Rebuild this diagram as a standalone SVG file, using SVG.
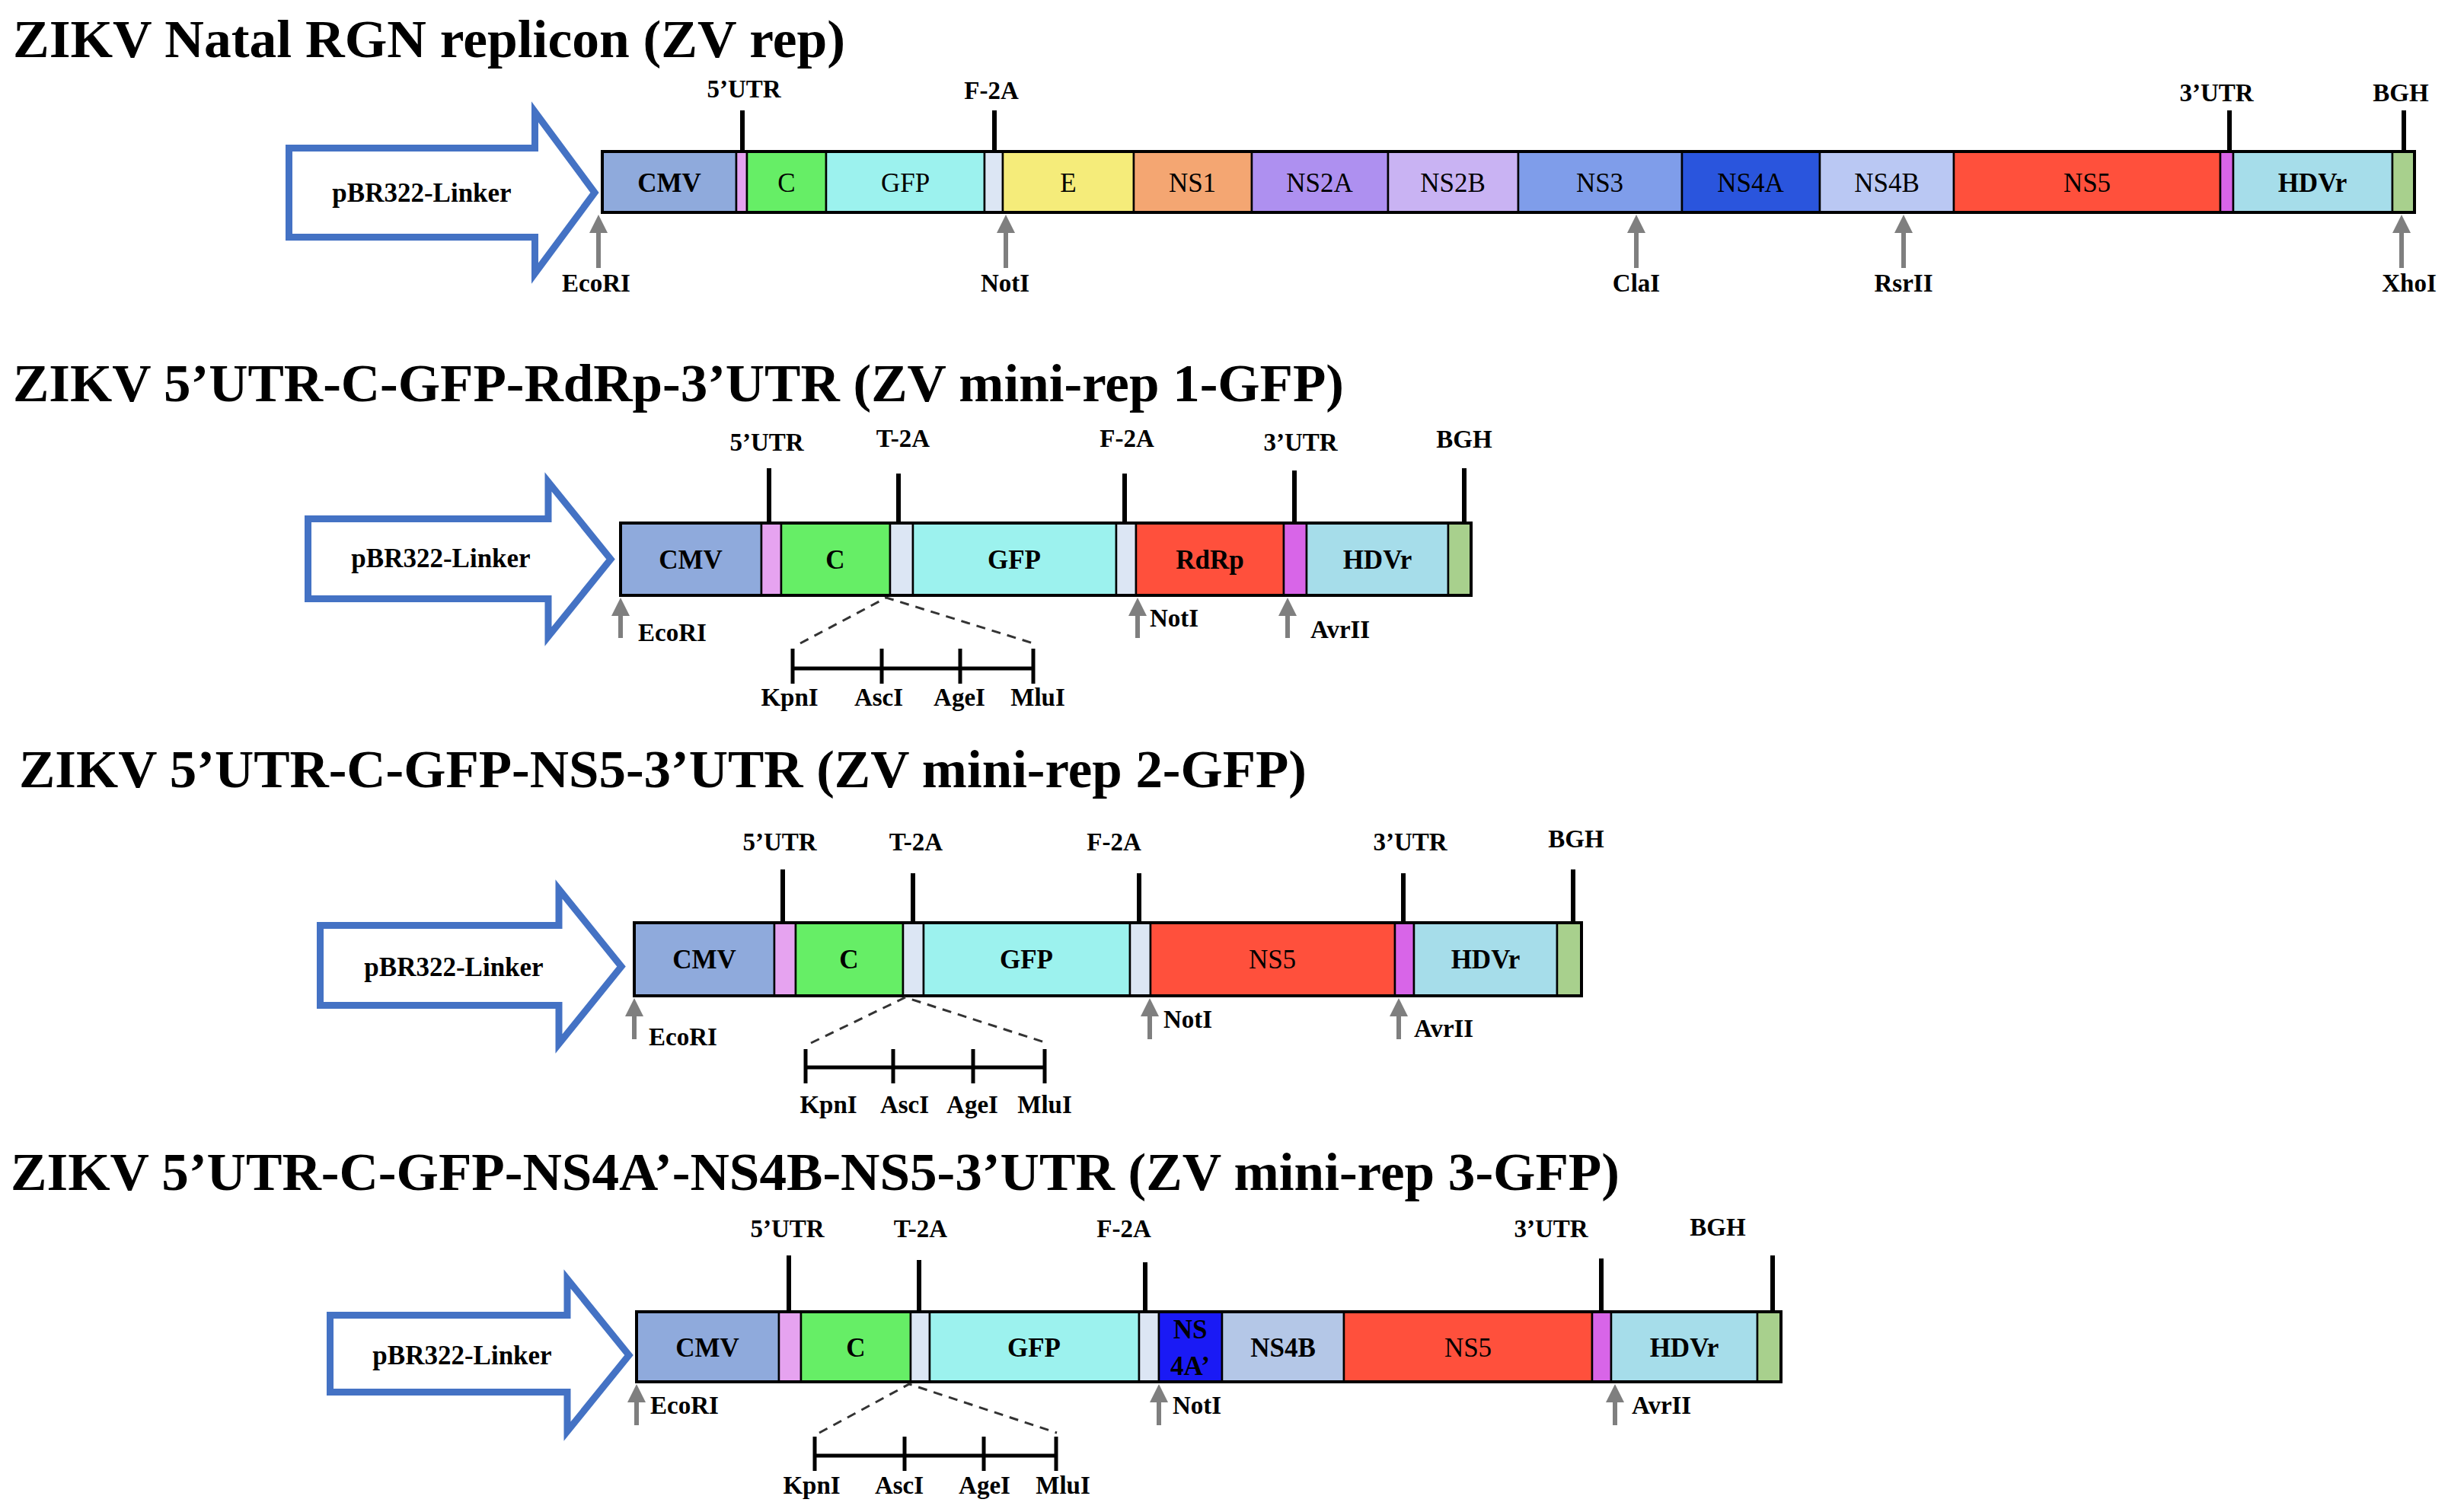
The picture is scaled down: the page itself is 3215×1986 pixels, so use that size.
<svg xmlns="http://www.w3.org/2000/svg" width="3215" height="1986" viewBox="0 0 3215 1986">
<style>
.t{font-family:"Liberation Serif","Times New Roman",serif;font-weight:bold;fill:#000}
.title{font-size:70px}
.sl{font-size:35px;text-anchor:middle}
.rg{font-weight:normal}
.lb{font-size:33px}
.m{text-anchor:middle}
.promo{fill:#fff;stroke:#4472C4;stroke-width:9;stroke-miterlimit:20}
.tick{stroke:#000;stroke-width:6}
.ga{stroke:#7F7F7F;stroke-width:6;marker-end:url(#ah)}
.dash{stroke:#333;stroke-width:3;stroke-dasharray:12 9;fill:none}
.sb{stroke:#000;stroke-width:5}
.box{fill:none;stroke:#000;stroke-width:4}
.s{stroke:#000;stroke-width:2.5}
.cmv{fill:#8FAADC}.u5{fill:#E6A3F0}.cc{fill:#66EE66}.gfp{fill:#9CF2EE}.sp{fill:#DCE6F4}
.e{fill:#F5EC7A}.ns1{fill:#F4A672}.ns2a{fill:#AE90F0}.ns2b{fill:#C9B3F3}.ns3{fill:#7F9DEA}
.ns4a{fill:#2A55DD}.ns4b{fill:#BAC8F3}.ns5{fill:#FF503C}.u3{fill:#D865E8}.hdv{fill:#A6DDEA}.bgh{fill:#A8D08D}
.ns4ap{fill:#1A1AF5}.ns4bp{fill:#B4C7E7}
</style>
<defs>
<marker id="ah" viewBox="0 0 24 24" markerWidth="24" markerHeight="24" markerUnits="userSpaceOnUse" refX="14" refY="12" orient="auto">
<path d="M0,0 L24,12 L0,24 Z" fill="#7F7F7F"/>
</marker>
</defs>
<rect width="3215" height="1986" fill="#fff"/>

<!-- ===== Construct 1 ===== -->
<g id="construct1">
<text class="t title" x="17" y="75" textLength="1093" lengthAdjust="spacingAndGlyphs">ZIKV Natal RGN replicon (ZV rep)</text>
<g id="r1-promoter">
<path class="promo" d="M379.5,194.5 H702.5 V147 L781,253 L702.5,359 V311.5 H379.5 Z"/>
<text class="t sl" x="554" y="265">pBR322-Linker</text>
</g>
<g id="r1-cmv"><rect class="s cmv" x="791" y="199" width="176" height="80"/><text class="t sl" x="879" y="252">CMV</text></g>
<g id="r1-5utr"><rect class="s u5" x="967" y="199" width="14" height="80"/></g>
<g id="r1-c"><rect class="s cc" x="981" y="199" width="104" height="80"/><text class="t sl rg" x="1033" y="252">C</text></g>
<g id="r1-gfp"><rect class="s gfp" x="1085" y="199" width="208" height="80"/><text class="t sl rg" x="1189" y="252">GFP</text></g>
<g id="r1-f2a"><rect class="s sp" x="1293" y="199" width="24" height="80"/></g>
<g id="r1-e"><rect class="s e" x="1317" y="199" width="172" height="80"/><text class="t sl rg" x="1403" y="252">E</text></g>
<g id="r1-ns1"><rect class="s ns1" x="1489" y="199" width="155" height="80"/><text class="t sl rg" x="1566" y="252">NS1</text></g>
<g id="r1-ns2a"><rect class="s ns2a" x="1644" y="199" width="179" height="80"/><text class="t sl rg" x="1733" y="252">NS2A</text></g>
<g id="r1-ns2b"><rect class="s ns2b" x="1823" y="199" width="171" height="80"/><text class="t sl rg" x="1908" y="252">NS2B</text></g>
<g id="r1-ns3"><rect class="s ns3" x="1994" y="199" width="215" height="80"/><text class="t sl rg" x="2101" y="252">NS3</text></g>
<g id="r1-ns4a"><rect class="s ns4a" x="2209" y="199" width="181" height="80"/><text class="t sl rg" x="2299" y="252">NS4A</text></g>
<g id="r1-ns4b"><rect class="s ns4b" x="2390" y="199" width="176" height="80"/><text class="t sl rg" x="2478" y="252">NS4B</text></g>
<g id="r1-ns5"><rect class="s ns5" x="2566" y="199" width="350" height="80"/><text class="t sl rg" x="2741" y="252">NS5</text></g>
<g id="r1-3utr"><rect class="s u3" x="2916" y="199" width="17" height="80"/></g>
<g id="r1-hdvr"><rect class="s hdv" x="2933" y="199" width="209" height="80"/><text class="t sl" x="3037" y="252">HDVr</text></g>
<g id="r1-bgh"><rect class="s bgh" x="3142" y="199" width="29" height="80"/></g>
<rect class="box" x="791" y="199" width="2380" height="80"/>
<g id="r1-labels">
<text class="t lb m" x="977" y="128">5’UTR</text>
<text class="t lb m" x="1302" y="130">F-2A</text>
<text class="t lb m" x="2911" y="133">3’UTR</text>
<text class="t lb m" x="3153" y="133">BGH</text>
<text class="t lb m" x="783" y="383">EcoRI</text>
<text class="t lb m" x="1320" y="383">NotI</text>
<text class="t lb m" x="2149" y="383">ClaI</text>
<text class="t lb m" x="2500" y="383">RsrII</text>
<text class="t lb m" x="3164" y="383">XhoI</text>
</g>
</g>

<!-- ===== Construct 2 ===== -->
<g id="construct2">
<text class="t title" x="17" y="527" textLength="1748" lengthAdjust="spacingAndGlyphs">ZIKV 5’UTR-C-GFP-RdRp-3’UTR (ZV mini-rep 1-GFP)</text>
<g id="r2-promoter">
<path class="promo" d="M404.5,681.5 H720 V633 L802,734.5 L720,836 V786.5 H404.5 Z"/>
<text class="t sl" x="579" y="745">pBR322-Linker</text>
</g>
<g id="r2-cmv"><rect class="s cmv" x="815" y="687" width="185" height="95"/><text class="t sl" x="907" y="747">CMV</text></g>
<g id="r2-5utr"><rect class="s u5" x="1000" y="687" width="26" height="95"/></g>
<g id="r2-c"><rect class="s cc" x="1026" y="687" width="143" height="95"/><text class="t sl" x="1097" y="747">C</text></g>
<g id="r2-t2a"><rect class="s sp" x="1169" y="687" width="30" height="95"/></g>
<g id="r2-gfp"><rect class="s gfp" x="1199" y="687" width="267" height="95"/><text class="t sl" x="1332" y="747">GFP</text></g>
<g id="r2-f2a"><rect class="s sp" x="1466" y="687" width="26" height="95"/></g>
<g id="r2-rdrp"><rect class="s ns5" x="1492" y="687" width="194" height="95"/><text class="t sl" x="1589" y="747">RdRp</text></g>
<g id="r2-3utr"><rect class="s u3" x="1686" y="687" width="30" height="95"/></g>
<g id="r2-hdvr"><rect class="s hdv" x="1716" y="687" width="186" height="95"/><text class="t sl" x="1809" y="747">HDVr</text></g>
<g id="r2-bgh"><rect class="s bgh" x="1902" y="687" width="30" height="95"/></g>
<rect class="box" x="815" y="687" width="1117" height="95"/>
<g id="r2-labels">
<text class="t lb m" x="1007" y="592">5’UTR</text>
<text class="t lb m" x="1186" y="587">T-2A</text>
<text class="t lb m" x="1480" y="587">F-2A</text>
<text class="t lb m" x="1708" y="592">3’UTR</text>
<text class="t lb m" x="1923" y="588">BGH</text>
<text class="t lb" x="838" y="842">EcoRI</text>
<text class="t lb" x="1510" y="823">NotI</text>
<text class="t lb" x="1721" y="838">AvrII</text>
<text class="t lb m" x="1037" y="927">KpnI</text>
<text class="t lb m" x="1154" y="927">AscI</text>
<text class="t lb m" x="1260" y="927">AgeI</text>
<text class="t lb m" x="1363" y="927">MluI</text>
</g>
</g>

<!-- ===== Construct 3 ===== -->
<g id="construct3">
<text class="t title" x="25" y="1034" textLength="1691" lengthAdjust="spacingAndGlyphs">ZIKV 5’UTR-C-GFP-NS5-3’UTR (ZV mini-rep 2-GFP)</text>
<g id="r3-promoter">
<path class="promo" d="M420.5,1215.5 H734 V1168 L816,1269.5 L734,1371 V1320.5 H420.5 Z"/>
<text class="t sl" x="596" y="1282">pBR322-Linker</text>
</g>
<g id="r3-cmv"><rect class="s cmv" x="833" y="1212" width="184" height="96"/><text class="t sl" x="925" y="1272">CMV</text></g>
<g id="r3-5utr"><rect class="s u5" x="1017" y="1212" width="28" height="96"/></g>
<g id="r3-c"><rect class="s cc" x="1045" y="1212" width="141" height="96"/><text class="t sl" x="1115" y="1272">C</text></g>
<g id="r3-t2a"><rect class="s sp" x="1186" y="1212" width="27" height="96"/></g>
<g id="r3-gfp"><rect class="s gfp" x="1213" y="1212" width="271" height="96"/><text class="t sl" x="1348" y="1272">GFP</text></g>
<g id="r3-f2a"><rect class="s sp" x="1484" y="1212" width="27" height="96"/></g>
<g id="r3-ns5"><rect class="s ns5" x="1511" y="1212" width="321" height="96"/><text class="t sl rg" x="1671" y="1272">NS5</text></g>
<g id="r3-3utr"><rect class="s u3" x="1832" y="1212" width="25" height="96"/></g>
<g id="r3-hdvr"><rect class="s hdv" x="1857" y="1212" width="188" height="96"/><text class="t sl" x="1951" y="1272">HDVr</text></g>
<g id="r3-bgh"><rect class="s bgh" x="2045" y="1212" width="32" height="96"/></g>
<rect class="box" x="833" y="1212" width="1244" height="96"/>
<g id="r3-labels">
<text class="t lb m" x="1024" y="1117">5’UTR</text>
<text class="t lb m" x="1203" y="1117">T-2A</text>
<text class="t lb m" x="1463" y="1117">F-2A</text>
<text class="t lb m" x="1852" y="1117">3’UTR</text>
<text class="t lb m" x="2070" y="1113">BGH</text>
<text class="t lb" x="852" y="1373">EcoRI</text>
<text class="t lb" x="1528" y="1350">NotI</text>
<text class="t lb" x="1857" y="1362">AvrII</text>
<text class="t lb m" x="1088" y="1462">KpnI</text>
<text class="t lb m" x="1188" y="1462">AscI</text>
<text class="t lb m" x="1277" y="1462">AgeI</text>
<text class="t lb m" x="1372" y="1462">MluI</text>
</g>
</g>

<!-- ===== Construct 4 ===== -->
<g id="construct4">
<text class="t title" x="14" y="1563" textLength="2113" lengthAdjust="spacingAndGlyphs">ZIKV 5’UTR-C-GFP-NS4A’-NS4B-NS5-3’UTR (ZV mini-rep 3-GFP)</text>
<g id="r4-promoter">
<path class="promo" d="M433.5,1727.5 H745 V1680 L826,1780 L745,1880 V1828.5 H433.5 Z"/>
<text class="t sl" x="607" y="1792">pBR322-Linker</text>
</g>
<g id="r4-cmv"><rect class="s cmv" x="836" y="1723" width="187" height="92"/><text class="t sl" x="929" y="1782">CMV</text></g>
<g id="r4-5utr"><rect class="s u5" x="1023" y="1723" width="29" height="92"/></g>
<g id="r4-c"><rect class="s cc" x="1052" y="1723" width="144" height="92"/><text class="t sl" x="1124" y="1782">C</text></g>
<g id="r4-t2a"><rect class="s sp" x="1196" y="1723" width="25" height="92"/></g>
<g id="r4-gfp"><rect class="s gfp" x="1221" y="1723" width="275" height="92"/><text class="t sl" x="1358" y="1782">GFP</text></g>
<g id="r4-f2a"><rect class="s sp" x="1496" y="1723" width="26" height="92"/></g>
<g id="r4-ns4a"><rect class="s ns4ap" x="1522" y="1723" width="83" height="92"/><text class="t sl" x="1563" y="1758">NS</text><text class="t sl" x="1563" y="1806">4A’</text></g>
<g id="r4-ns4b"><rect class="s ns4bp" x="1605" y="1723" width="160" height="92"/><text class="t sl" x="1685" y="1782">NS4B</text></g>
<g id="r4-ns5"><rect class="s ns5" x="1765" y="1723" width="326" height="92"/><text class="t sl rg" x="1928" y="1782">NS5</text></g>
<g id="r4-3utr"><rect class="s u3" x="2091" y="1723" width="25" height="92"/></g>
<g id="r4-hdvr"><rect class="s hdv" x="2116" y="1723" width="192" height="92"/><text class="t sl" x="2212" y="1782">HDVr</text></g>
<g id="r4-bgh"><rect class="s bgh" x="2308" y="1723" width="31" height="92"/></g>
<rect class="box" x="836" y="1723" width="1503" height="92"/>
<g id="r4-labels">
<text class="t lb m" x="1034" y="1625">5’UTR</text>
<text class="t lb m" x="1209" y="1625">T-2A</text>
<text class="t lb m" x="1476" y="1625">F-2A</text>
<text class="t lb m" x="2037" y="1625">3’UTR</text>
<text class="t lb m" x="2256" y="1623">BGH</text>
<text class="t lb" x="854" y="1857">EcoRI</text>
<text class="t lb" x="1540" y="1857">NotI</text>
<text class="t lb" x="2143" y="1857">AvrII</text>
<text class="t lb m" x="1066" y="1962">KpnI</text>
<text class="t lb m" x="1181" y="1962">AscI</text>
<text class="t lb m" x="1293" y="1962">AgeI</text>
<text class="t lb m" x="1396" y="1962">MluI</text>
</g>
</g>

<!-- ===== Connectors ===== -->
<g id="connectors">
<!-- row 1 ticks -->
<line class="tick" x1="975" y1="145" x2="975" y2="199"/>
<line class="tick" x1="1306" y1="145" x2="1306" y2="199"/>
<line class="tick" x1="2928" y1="145" x2="2928" y2="199"/>
<line class="tick" x1="3157" y1="145" x2="3157" y2="199"/>
<!-- row 1 site arrows -->
<line class="ga" x1="786" y1="352" x2="786" y2="292"/>
<line class="ga" x1="1321" y1="352" x2="1321" y2="292"/>
<line class="ga" x1="2149" y1="352" x2="2149" y2="292"/>
<line class="ga" x1="2500" y1="352" x2="2500" y2="292"/>
<line class="ga" x1="3154" y1="352" x2="3154" y2="292"/>

<!-- row 2 ticks -->
<line class="tick" x1="1010" y1="615" x2="1010" y2="687"/>
<line class="tick" x1="1180" y1="622" x2="1180" y2="687"/>
<line class="tick" x1="1477" y1="622" x2="1477" y2="687"/>
<line class="tick" x1="1700" y1="618" x2="1700" y2="687"/>
<line class="tick" x1="1923" y1="615" x2="1923" y2="687"/>
<line class="ga" x1="815" y1="838" x2="815" y2="795"/>
<line class="ga" x1="1494" y1="838" x2="1494" y2="795"/>
<line class="ga" x1="1691" y1="838" x2="1691" y2="795"/>
<polyline class="dash" points="1051,845 1164,785 1357,845"/>
<line class="sb" x1="1041" y1="878" x2="1357" y2="878"/>
<line class="sb" x1="1041" y1="852" x2="1041" y2="898"/>
<line class="sb" x1="1158" y1="852" x2="1158" y2="898"/>
<line class="sb" x1="1261" y1="852" x2="1261" y2="898"/>
<line class="sb" x1="1357" y1="852" x2="1357" y2="898"/>

<!-- row 3 ticks -->
<line class="tick" x1="1028" y1="1142" x2="1028" y2="1212"/>
<line class="tick" x1="1199" y1="1147" x2="1199" y2="1212"/>
<line class="tick" x1="1496" y1="1147" x2="1496" y2="1212"/>
<line class="tick" x1="1843" y1="1147" x2="1843" y2="1212"/>
<line class="tick" x1="2066" y1="1142" x2="2066" y2="1212"/>
<line class="ga" x1="833" y1="1365" x2="833" y2="1321"/>
<line class="ga" x1="1510" y1="1365" x2="1510" y2="1321"/>
<line class="ga" x1="1837" y1="1365" x2="1837" y2="1321"/>
<polyline class="dash" points="1065,1370 1189,1310 1375,1370"/>
<line class="sb" x1="1058" y1="1402" x2="1372" y2="1402"/>
<line class="sb" x1="1058" y1="1378" x2="1058" y2="1423"/>
<line class="sb" x1="1173" y1="1378" x2="1173" y2="1423"/>
<line class="sb" x1="1278" y1="1378" x2="1278" y2="1423"/>
<line class="sb" x1="1372" y1="1378" x2="1372" y2="1423"/>

<!-- row 4 ticks -->
<line class="tick" x1="1036" y1="1649" x2="1036" y2="1723"/>
<line class="tick" x1="1207" y1="1655" x2="1207" y2="1723"/>
<line class="tick" x1="1504" y1="1658" x2="1504" y2="1723"/>
<line class="tick" x1="2103" y1="1653" x2="2103" y2="1723"/>
<line class="tick" x1="2328" y1="1649" x2="2328" y2="1723"/>
<line class="ga" x1="836" y1="1872" x2="836" y2="1828"/>
<line class="ga" x1="1522" y1="1872" x2="1522" y2="1828"/>
<line class="ga" x1="2121" y1="1872" x2="2121" y2="1828"/>
<polyline class="dash" points="1076,1882 1194,1818 1388,1882"/>
<line class="sb" x1="1070" y1="1912" x2="1387" y2="1912"/>
<line class="sb" x1="1070" y1="1887" x2="1070" y2="1932"/>
<line class="sb" x1="1188" y1="1887" x2="1188" y2="1932"/>
<line class="sb" x1="1292" y1="1887" x2="1292" y2="1932"/>
<line class="sb" x1="1387" y1="1887" x2="1387" y2="1932"/>
</g>
</svg>
